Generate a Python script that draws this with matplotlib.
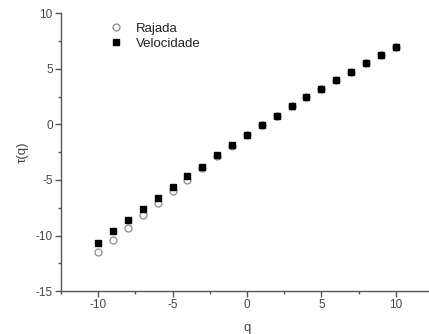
import matplotlib
matplotlib.use("Agg")
import matplotlib.pyplot as plt
from matplotlib.ticker import MultipleLocator

plt.rcParams['font.family'] = ['Liberation Sans', 'DejaVu Sans']
plt.rcParams['axes.unicode_minus'] = False

q = [-10, -9, -8, -7, -6, -5, -4, -3, -2, -1, 0, 1, 2, 3, 4, 5, 6, 7, 8, 9, 10]
tau_rajada = [-11.47, -10.39, -9.28, -8.14, -7.06, -6.00, -5.00, -3.95, -2.85, -1.90,
              -0.99, -0.09, 0.75, 1.62, 2.46, 3.24, 4.03, 4.77, 5.50, 6.24, 6.96]
tau_velocidade = [-10.66, -9.61, -8.59, -7.57, -6.61, -5.65, -4.68, -3.81, -2.79, -1.89,
                  -0.99, -0.09, 0.75, 1.62, 2.46, 3.24, 4.03, 4.77, 5.50, 6.24, 6.96]

axis_gray = '#555555'
text_gray = '#444444'

fig = plt.figure(figsize=(4.29, 3.34), dpi=100)
ax = fig.add_axes([0.1422, 0.1287, 0.867, 0.831])

ax.plot(q, tau_rajada, linestyle='none', marker='o', markersize=5.0,
        markerfacecolor='white', markeredgecolor='#8a8a8a', markeredgewidth=0.9,
        label='Rajada')
ax.plot(q, tau_velocidade, linestyle='none', marker='s', markersize=4.6,
        markerfacecolor='black', markeredgecolor='black', label='Velocidade')

ax.set_xlim(-12.5, 12.5)
ax.set_ylim(-15, 10)
ax.xaxis.set_major_locator(MultipleLocator(5))
ax.xaxis.set_minor_locator(MultipleLocator(2.5))
ax.yaxis.set_major_locator(MultipleLocator(5))
ax.yaxis.set_minor_locator(MultipleLocator(2.5))

for side in ('top', 'right'):
    ax.spines[side].set_visible(False)
for side in ('left', 'bottom'):
    ax.spines[side].set_color(axis_gray)
    ax.spines[side].set_linewidth(1.0)

ax.tick_params(which='major', direction='out', length=4, width=1.0,
               color=axis_gray, labelsize=8.5, labelcolor=text_gray, pad=2)
ax.tick_params(which='minor', direction='out', length=2, width=1.0, color=axis_gray)

ax.set_xlabel('q', fontsize=9.5, color=text_gray, labelpad=8)
ax.set_ylabel('τ(q)', fontsize=9.5, color=text_gray, labelpad=5)

leg = ax.legend(loc='upper left', bbox_to_anchor=(0.11, 0.995), frameon=False,
                fontsize=9.5, handletextpad=1.0, labelspacing=0.2, handlelength=1.0,
                borderaxespad=0.2)
for t in leg.get_texts():
    t.set_color('#222222')

fig.savefig('out.png', dpi=100)
